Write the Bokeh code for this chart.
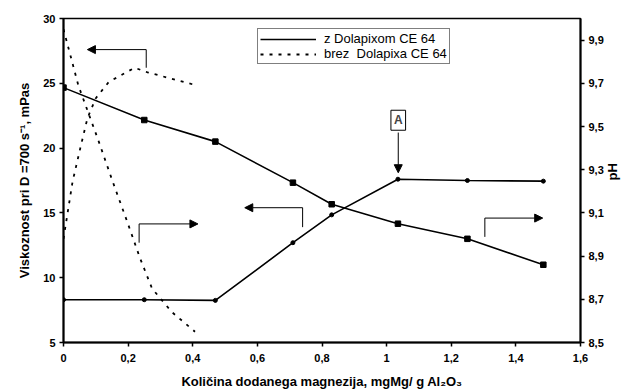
import math
from bokeh.plotting import figure
from bokeh.models import (Range1d, LinearAxis, FixedTicker, Legend, LegendItem,
                          Arrow, NormalHead, Label)
from bokeh.embed import file_html
from bokeh.resources import INLINE

# ---- data ----
x_dol = [0, 0.25, 0.47, 0.71, 0.83, 1.035, 1.25, 1.485]
ph_dol = [9.68, 9.53, 9.43, 9.24, 9.14, 9.05, 8.98, 8.86]
visc_dol = [8.3, 8.3, 8.25, 12.7, 14.85, 17.6, 17.5, 17.45]

x_visc_brez = [0, 0.028, 0.052, 0.074, 0.10, 0.14, 0.22, 0.26, 0.41]
visc_brez = [13.0, 17.4, 20.0, 22.3, 23.85, 25.1, 26.2, 25.85, 24.85]

x_ph_brez = [0, 0.046, 0.108, 0.151, 0.197, 0.237, 0.274, 0.336, 0.407]
ph_brez = [9.95, 9.69, 9.435, 9.25, 9.06, 8.89, 8.75, 8.64, 8.55]

x_ticks = [0, 0.2, 0.4, 0.6, 0.8, 1.0, 1.2, 1.4, 1.6]
x_tick_labels = ["0", "0,2", "0,4", "0,6", "0,8", "1", "1,2", "1,4", "1,6"]
y_ticks = [5, 10, 15, 20, 25, 30]
ph_ticks = [8.5, 8.7, 8.9, 9.1, 9.3, 9.5, 9.7, 9.9]
ph_tick_labels = ["8,5", "8,7", "8,9", "9,1", "9,3", "9,5", "9,7", "9,9"]

legend_labels = ["z Dolapixom CE 64", "brez  Dolapixa CE 64"]

# direction arrows: (x_vertical, y_bottom, y_top, x_head_end) in left-axis units
arrows = [
    (0.256, 26.2, 27.6, 0.074),
    (0.234, 12.7, 14.15, 0.416),
    (0.74, 13.9, 15.4, 0.561),
    (1.304, 13.15, 14.6, 1.483),
]
label_A = (1.036, 22.15)
arrow_A = (1.036, 21.2, 18.1)

FONT = "Liberation Sans"

p = figure(width=630, height=391, output_backend="svg", toolbar_location=None,
           x_range=Range1d(0, 1.6), y_range=Range1d(5, 30),
           min_border_left=63, min_border_right=46, min_border_top=18,
           min_border_bottom=48)
p.extra_y_ranges = {"ph": Range1d(8.5, 10.0)}
p.xgrid.visible = False
p.ygrid.visible = False
p.outline_line_color = "black"
p.outline_line_width = 1.5
p.background_fill_color = "white"
p.border_fill_color = "white"

ax_r = LinearAxis(y_range_name="ph")
p.add_layout(ax_r, "right")

for ax in [p.xaxis[0], p.yaxis[0], ax_r]:
    ax.axis_line_width = 2
    ax.axis_line_color = "black"
    ax.major_tick_line_color = "black"
    ax.major_tick_line_width = 1.5
    ax.major_tick_out = 4
    ax.major_tick_in = 0
    ax.minor_tick_line_color = None
    ax.major_label_text_font = FONT
    ax.major_label_text_font_style = "bold"
    ax.major_label_text_font_size = "11px"
    ax.major_label_text_color = "black"
    ax.axis_label_text_font = FONT
    ax.axis_label_text_font_style = "bold"
    ax.axis_label_text_font_size = "13px"
    ax.axis_label_text_color = "black"
    ax.major_label_standoff = 4

p.xaxis[0].ticker = FixedTicker(ticks=x_ticks)
p.xaxis[0].major_label_overrides = dict(zip(x_ticks, x_tick_labels))
p.xaxis[0].axis_label = "Količina dodanega magnezija, mgMg/ g Al₂O₃"
p.xaxis[0].major_label_standoff = 7
p.xaxis[0].axis_label_standoff = 9

p.yaxis[0].ticker = FixedTicker(ticks=y_ticks)
p.yaxis[0].axis_label = "Viskoznost pri D =700 s⁻¹, mPas"
p.yaxis[0].axis_label_standoff = 8

ax_r.ticker = FixedTicker(ticks=ph_ticks)
ax_r.major_label_overrides = dict(zip(ph_ticks, ph_tick_labels))
ax_r.axis_label = "pH"
ax_r.axis_label_standoff = 6
ax_r.axis_label_orientation = math.pi / 2

# ---- series ----
l_ph = p.line(x_dol, ph_dol, y_range_name="ph", line_color="black", line_width=1.6)
p.scatter(x_dol, ph_dol, y_range_name="ph", marker="square", size=5.5, color="black")
l_visc = p.line(x_dol, visc_dol, line_color="black", line_width=1.6)
p.scatter(x_dol, visc_dol, marker="circle", size=4, color="black")

l_vb = p.line(x_visc_brez, visc_brez, line_color="black", line_width=1.8, line_dash="3 6")
l_pb = p.line(x_ph_brez, ph_brez, y_range_name="ph", line_color="black", line_width=1.8,
              line_dash="3 6")

# ---- direction arrows ----
for xv, yb, yt, xe in arrows:
    p.line([xv, xv], [yb, yt], line_color="black", line_width=1)
    p.add_layout(Arrow(end=NormalHead(size=8, fill_color="black", line_color="black"),
                       x_start=xv, y_start=yt, x_end=xe, y_end=yt,
                       line_color="black", line_width=1))

# ---- "A" marker ----
p.add_layout(Label(x=label_A[0], y=label_A[1], text="A", text_font=FONT,
                   text_font_style="bold", text_font_size="12px", text_align="center",
                   text_baseline="middle", border_line_color="black",
                   border_line_width=1, background_fill_color="white", padding=3))
p.add_layout(Arrow(end=NormalHead(size=8, fill_color="black", line_color="black"),
                   x_start=arrow_A[0], y_start=arrow_A[1], x_end=arrow_A[0],
                   y_end=arrow_A[2], line_color="black", line_width=1))

# ---- legend ----
legend = Legend(items=[LegendItem(label=legend_labels[0], renderers=[l_ph]),
                       LegendItem(label=legend_labels[1], renderers=[l_pb])],
                location=(194, 278), orientation="vertical")
legend.label_text_font = FONT
legend.label_text_font_size = "13px"
legend.label_text_color = "black"
legend.glyph_width = 56
legend.glyph_height = 12
legend.label_height = 12
legend.label_standoff = 8
legend.spacing = 0
legend.padding = 2
legend.margin = 0
legend.border_line_color = "black"
legend.border_line_width = 1
legend.background_fill_alpha = 1
p.add_layout(legend)

open("out.html", "w").write(file_html(p, INLINE))
